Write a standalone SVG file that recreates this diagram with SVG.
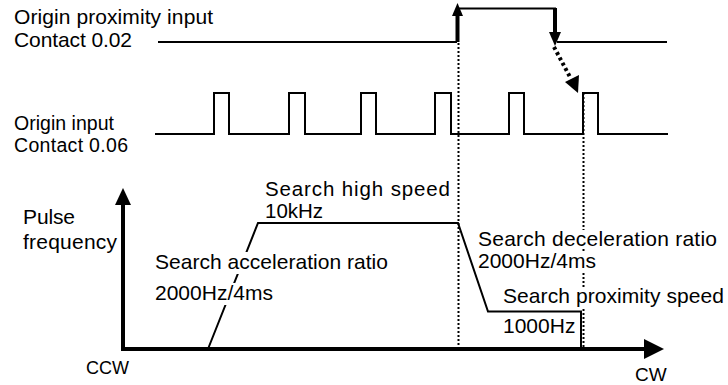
<svg xmlns="http://www.w3.org/2000/svg" width="728" height="385" viewBox="0 0 728 385">
<style>
text{font-family:"Liberation Sans",Arial,sans-serif;font-size:21px;fill:#000}
.sm{font-size:19.5px}
.sig{fill:none;stroke:#000;stroke-width:2}
.thick{fill:none;stroke:#000;stroke-width:4}
.dot{fill:none;stroke:#000;stroke-width:2;stroke-dasharray:2 2}
.bg{fill:#fff}
</style>
<rect width="728" height="385" fill="#fff"/>
<g id="connectors">
<polyline class="sig" points="158,42 457,42"/>
<polyline class="sig" points="557,42 667,42"/>
<line class="thick" x1="457.5" y1="42" x2="457.5" y2="14"/>
<polygon points="452,16 463,16 457.5,3"/>
<polyline class="sig" points="457.5,8.5 555,8.5 555,30"/>
<line class="thick" x1="555" y1="8" x2="555" y2="34"/>
<polygon points="549,32 561,32 555,46"/>
<line x1="554" y1="47" x2="570" y2="77" stroke="#000" stroke-width="4" stroke-dasharray="3 3"/>
<polygon points="565,82 579,75 578,93"/>
<polyline class="sig" points="155,134 214,134 214,93 229,93 229,134 289,134 289,93 305,93 305,134 361,134 361,93 376,93 376,134 435,134 435,93 451,93 451,134 509,134 509,93 524,93 524,134 583,134 583,93 598,93 598,134 668,134"/>
<line class="dot" x1="458.5" y1="43" x2="458.5" y2="349"/>
<line class="dot" x1="583.5" y1="93" x2="583.5" y2="349"/>
<line x1="123" y1="349" x2="646" y2="349" stroke="#000" stroke-width="4"/>
<polygon points="644,339 644,359 664,349"/>
<line x1="123" y1="351" x2="123" y2="203" stroke="#000" stroke-width="4"/>
<polygon points="115,205 131,205 123,188"/>
<polyline class="sig" points="208,349 258,223 458,223 488,311.5 581,311.5 581,349"/>
</g>
<g id="label-origin-proximity">
<text x="14" y="24" textLength="199">Origin proximity input</text>
<text x="14" y="47" textLength="118">Contact 0.02</text>
</g>
<g id="label-origin-input">
<text class="sm" x="14" y="130" textLength="100">Origin input</text>
<text class="sm" x="14" y="152" textLength="114">Contact 0.06</text>
</g>
<g id="label-pulse-frequency">
<text x="23" y="224" textLength="52">Pulse</text>
<text x="23" y="249" textLength="94">frequency</text>
</g>
<g id="label-ccw"><text x="86" y="374" style="font-size:18px">CCW</text></g>
<g id="label-cw"><text x="635" y="381" style="font-size:19px">CW</text></g>
<g id="label-high-speed">
<text x="265" y="196" style="font-size:20.5px" textLength="185">Search high speed</text>
<text x="265" y="218" style="font-size:20.5px">10kHz</text>
</g>
<g id="label-acceleration">
<rect class="bg" x="155" y="252" width="233" height="22"/>
<text x="155" y="269" textLength="233">Search acceleration ratio</text>
<rect class="bg" x="155" y="283" width="120" height="22"/>
<text x="155" y="300">2000Hz/4ms</text>
</g>
<g id="label-deceleration">
<rect class="bg" x="478" y="230" width="239" height="18"/>
<text x="478" y="246" textLength="239">Search deceleration ratio</text>
<rect class="bg" x="478" y="253" width="120" height="19"/>
<text x="478" y="268">2000Hz/4ms</text>
</g>
<g id="label-proximity-speed">
<rect class="bg" x="503" y="287" width="222" height="20"/>
<text x="503" y="303" textLength="221">Search proximity speed</text>
<text x="503" y="333">1000Hz</text>
</g>
</svg>
